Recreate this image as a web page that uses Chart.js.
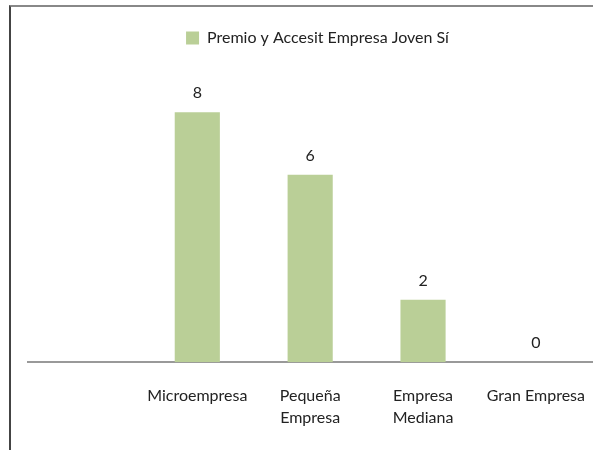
<!DOCTYPE html>
<html>
<head>
<meta charset="utf-8">
<script src="https://cdn.jsdelivr.net/npm/chart.js@4"></script>
<style>
  html, body { margin: 0; padding: 0; background: #fff; overflow: hidden; }
  #wrap { position: absolute; left: 9px; top: 5px; width: 584px; height: 445px;
          border-top: 2px solid #888; border-left: 2px solid #444; box-sizing: border-box; }
  #chart { position: absolute; left: 0; top: 0; }
</style>
</head>
<body>
<div id="wrap"><canvas id="chart" width="596" height="444"></canvas></div>
<script>
// データ
const categories = ['', 'Microempresa', ['Pequeña', 'Empresa'], ['Empresa', 'Mediana'], 'Gran Empresa'];
const seriesName = 'Premio y Accesit Empresa Joven Sí';
const seriesValues = [null, 8, 6, 2, 0];

const FONT = 'Lato, "Open Sans", sans-serif';

// 数値ラベル
const valueLabels = {
  id: 'valueLabels',
  afterDatasetsDraw(chart) {
    const ctx = chart.ctx;
    const meta = chart.getDatasetMeta(0);
    ctx.save();
    ctx.font = '16px ' + FONT;
    ctx.fillStyle = '#222';
    ctx.textAlign = 'center';
    ctx.textBaseline = 'bottom';
    meta.data.forEach((bar, i) => {
      const v = seriesValues[i];
      if (v === null) return;
      ctx.fillText(String(v), bar.x, bar.y - 11);
    });
    ctx.restore();
  }
};

new Chart(document.getElementById('chart'), {
  type: 'bar',
  data: {
    labels: categories,
    datasets: [{
      label: seriesName,
      data: seriesValues,
      backgroundColor: '#BACF97',
      barPercentage: 0.8,
      categoryPercentage: 0.5
    }]
  },
  options: {
    responsive: false,
    animation: false,
    layout: { padding: { left: 17, right: 0, top: 13, bottom: 0 } },
    plugins: {
      legend: {
        labels: { boxWidth: 13, boxHeight: 13, color: '#222', padding: 10,
                  font: { family: FONT, size: 16 } }
      },
      tooltip: { enabled: false }
    },
    scales: {
      x: {
        grid: { display: false, drawTicks: false },
        border: { color: '#999', width: 2 },
        ticks: { color: '#222', padding: 22, maxRotation: 0, autoSkip: false,
                 font: { family: FONT, size: 16, lineHeight: 1.4 } }
      },
      y: { display: false, min: 0, max: 9.8 }
    }
  },
  plugins: [valueLabels]
});
</script>
</body>
</html>
